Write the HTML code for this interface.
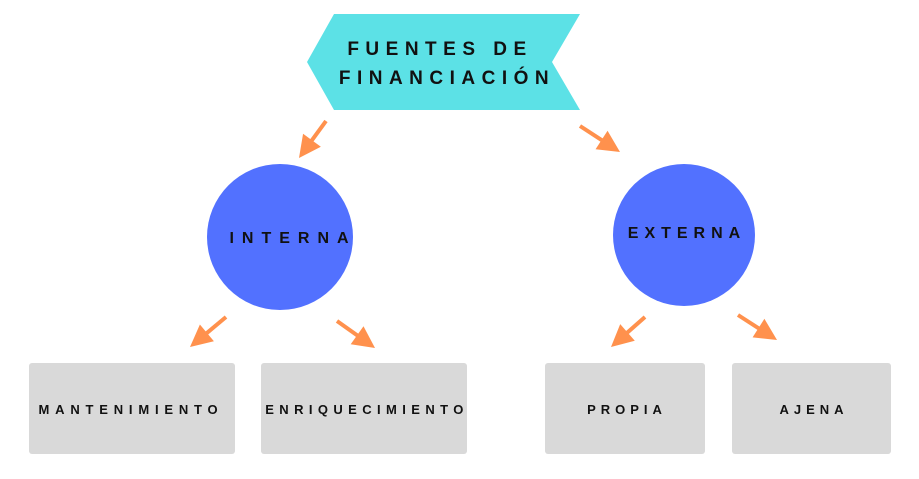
<!DOCTYPE html>
<html><head><meta charset="utf-8"><style>
html,body{margin:0;padding:0;background:#fff;}
svg{display:block;}
text{font-family:"Liberation Sans",sans-serif;font-weight:bold;fill:#111;}
</style></head><body>
<svg width="919" height="479" viewBox="0 0 919 479" xmlns="http://www.w3.org/2000/svg">
<polygon points="334,14 580,14 552,62 580,110 334,110 307,62" fill="#5CE1E6"/>
<text x="440" y="55" font-size="19" letter-spacing="6.5" text-anchor="middle">FUENTES DE</text>
<text x="447" y="84" font-size="19" letter-spacing="6.5" text-anchor="middle">FINANCIACIÓN</text>
<g stroke="#FF914D" stroke-width="4">
<line x1="326" y1="121" x2="308.4" y2="145.1"/>
<line x1="580" y1="126" x2="606.6" y2="143.3"/>
<line x1="226" y1="317" x2="202.3" y2="336.8"/>
<line x1="337" y1="321" x2="362" y2="338.7"/>
<line x1="645" y1="317" x2="623" y2="336.4"/>
<line x1="738" y1="315" x2="763.5" y2="331.4"/>
</g>
<g fill="#FF914D">
<polygon points="299,158 320.85,146.7 303.07,133.74"/>
<polygon points="620,152 595.57,149.23 607.55,130.79"/>
<polygon points="190,347 213.9,341.3 199.9,324.5"/>
<polygon points="375,348 350.7,344.3 363.5,326.3"/>
<polygon points="611,347 634.8,340.7 620.2,324.1"/>
<polygon points="777,340 752.6,337.4 764.4,318.8"/>
</g>
<circle cx="280" cy="237" r="73" fill="#5271FF"/>
<circle cx="684" cy="235" r="71" fill="#5271FF"/>
<text x="293" y="243" font-size="16" letter-spacing="8" text-anchor="middle">INTERNA</text>
<text x="687" y="238" font-size="16" letter-spacing="6" text-anchor="middle">EXTERNA</text>
<rect x="29" y="363" width="206" height="91" rx="3" fill="#D9D9D9"/>
<rect x="261" y="363" width="206" height="91" rx="3" fill="#D9D9D9"/>
<rect x="545" y="363" width="160" height="91" rx="3" fill="#D9D9D9"/>
<rect x="732" y="363" width="159" height="91" rx="3" fill="#D9D9D9"/>
<g font-size="13">
<text x="131" y="414" text-anchor="middle" letter-spacing="5.8">MANTENIMIENTO</text>
<text x="367" y="414" text-anchor="middle" letter-spacing="5.4">ENRIQUECIMIENTO</text>
<text x="627" y="414" text-anchor="middle" letter-spacing="5">PROPIA</text>
<text x="814" y="414" text-anchor="middle" letter-spacing="5">AJENA</text>
</g>
</svg>
</body></html>
